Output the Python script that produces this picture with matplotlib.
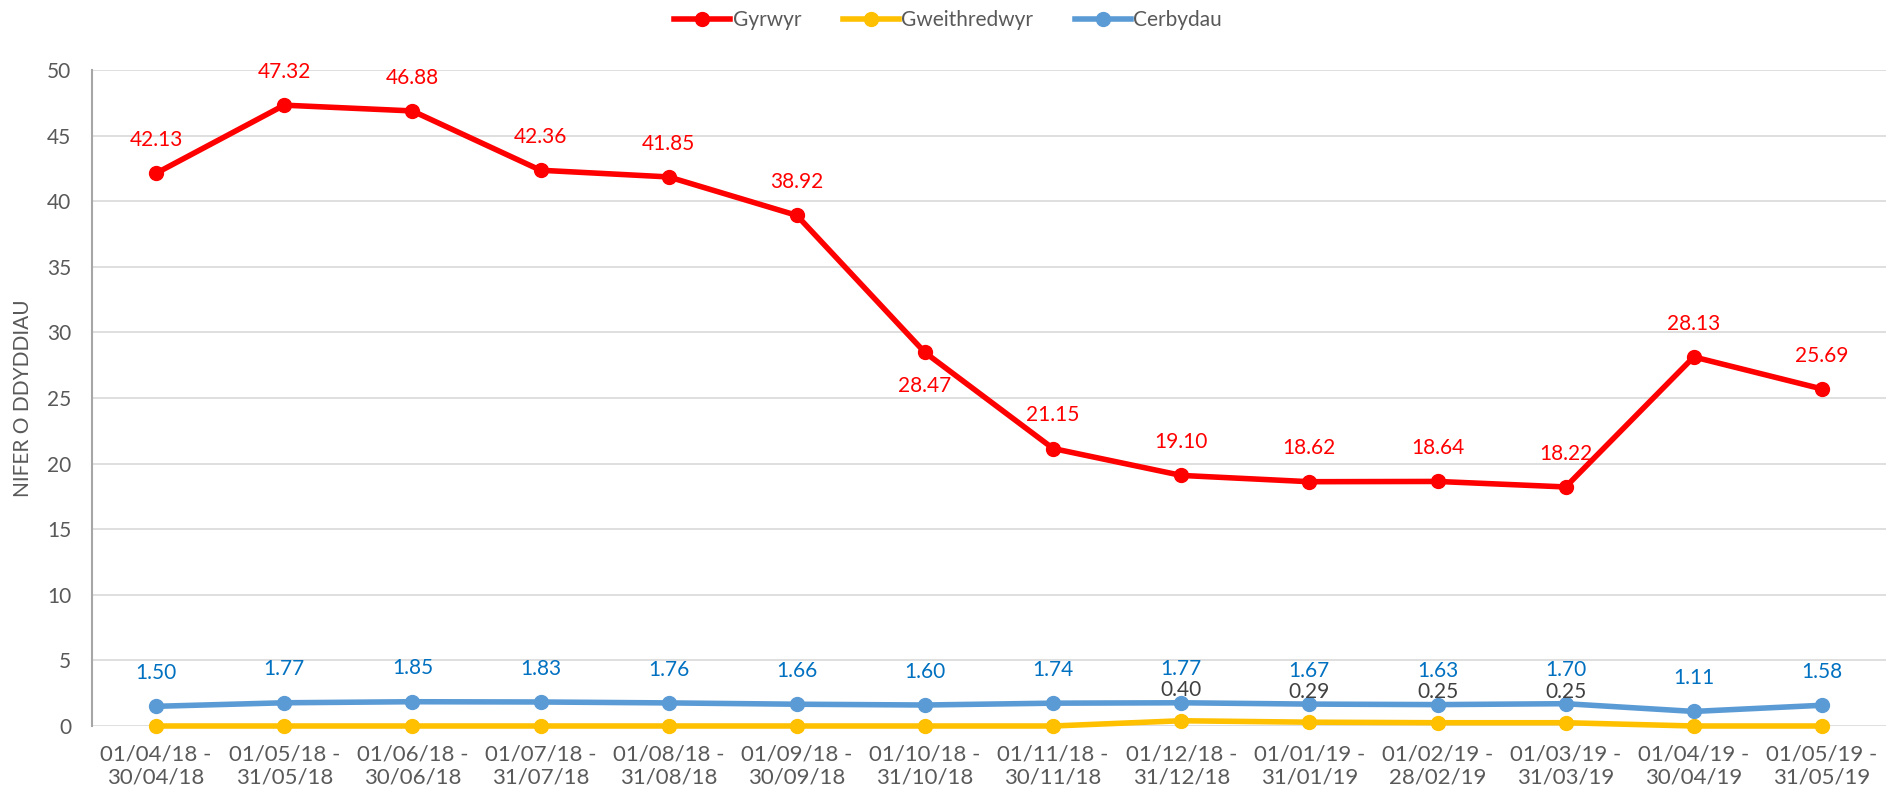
import matplotlib
matplotlib.use("Agg")
from matplotlib import pyplot as plt

plt.rcParams['font.family'] = ['Lato', 'DejaVu Sans']

# 时间段
periods = ['01/04/18 -\n30/04/18', '01/05/18 -\n31/05/18', '01/06/18 -\n30/06/18',
           '01/07/18 -\n31/07/18', '01/08/18 -\n31/08/18', '01/09/18 -\n30/09/18',
           '01/10/18 -\n31/10/18', '01/11/18 -\n30/11/18', '01/12/18 -\n31/12/18',
           '01/01/19 -\n31/01/19', '01/02/19 -\n28/02/19', '01/03/19 -\n31/03/19',
           '01/04/19 -\n30/04/19', '01/05/19 -\n31/05/19']
# 三条线的数值
gyrwyr = [42.13, 47.32, 46.88, 42.36, 41.85, 38.92, 28.47, 21.15, 19.10, 18.62, 18.64, 18.22, 28.13, 25.69]
gweithredwyr = [0, 0, 0, 0, 0, 0, 0, 0, 0.40, 0.29, 0.25, 0.25, 0, 0]
cerbydau = [1.50, 1.77, 1.85, 1.83, 1.76, 1.66, 1.60, 1.74, 1.77, 1.67, 1.63, 1.70, 1.11, 1.58]

red = '#ff0000'
yellow = '#ffc000'
blue = '#5b9bd5'
fs = 15

fig = plt.figure(figsize=(18.96, 8.02), dpi=100)
ax = fig.add_axes([92 / 1896, 76 / 802, (1886 - 92) / 1896, (726 - 70) / 802])

x = range(len(periods))
ax.plot(x, gyrwyr, color=red, lw=4, marker='o', ms=10, label='Gyrwyr', zorder=4, clip_on=False)
ax.plot(x, gweithredwyr, color=yellow, lw=4, marker='o', ms=10, label='Gweithredwyr', zorder=3, clip_on=False)
ax.plot(x, cerbydau, color=blue, lw=4, marker='o', ms=10, label='Cerbydau', zorder=3, clip_on=False)

# 数据标签
for i, v in enumerate(gyrwyr):
    dy = -24 if i == 6 else 24
    ax.annotate('%.2f' % v, (i, v), xytext=(0, dy), textcoords='offset points',
                ha='center', va='center', color=red, fontsize=fs)
for i, v in enumerate(cerbydau):
    ax.annotate('%.2f' % v, (i, v), xytext=(0, 24), textcoords='offset points',
                ha='center', va='center', color='#0070c0', fontsize=fs)
for i, v in enumerate(gweithredwyr):
    if v > 0:
        ax.annotate('%.2f' % v, (i, v), xytext=(0, 22), textcoords='offset points',
                    ha='center', va='center', color='#404040', fontsize=fs)

ax.set_xlim(-0.5, len(periods) - 0.5)
ax.set_ylim(0, 50)
ax.set_yticks(range(0, 51, 5))
ax.set_xticks(list(x))
ax.set_xticklabels(periods, fontsize=16, linespacing=1.2)
ax.tick_params(axis='both', length=0, labelcolor='#595959')
ax.tick_params(axis='y', labelsize=fs, pad=15)
ax.tick_params(axis='x', pad=13)
ax.grid(axis='y', color='#d9d9d9', lw=1.2)
ax.set_axisbelow(True)
for s in ['top', 'right', 'bottom']:
    ax.spines[s].set_visible(False)
ax.spines['left'].set_color('#a6a6a6')
ax.spines['left'].set_linewidth(1.5)
ax.set_ylabel('NIFER O DDYDDIAU', fontsize=fs, color='#595959')
ax.yaxis.set_label_coords(-0.033, 0.5)

fig.legend(loc='upper center', bbox_to_anchor=(0.5, 1.011), ncol=3, frameon=False,
           fontsize=fs, labelcolor='#595959', handlelength=2.7, columnspacing=2,
           handletextpad=0.1)

plt.savefig('out.png', dpi=100)
